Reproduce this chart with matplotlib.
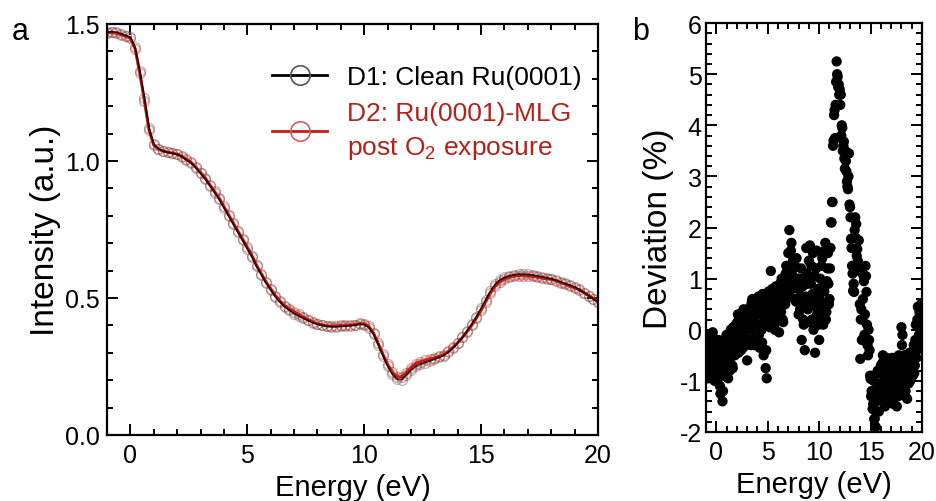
import numpy as np
import matplotlib
matplotlib.use("Agg")
import matplotlib.pyplot as plt
from matplotlib.ticker import MultipleLocator
from matplotlib.lines import Line2D

plt.rcParams['font.family'] = ['Liberation Sans', 'DejaVu Sans']
plt.rcParams['axes.unicode_minus'] = False

# ---------------- data: panel a (intensity spectra) ----------------
energy_a = np.round(np.arange(-1.0, 20.001, 0.2), 2)
intensity_d1 = [
    1.470, 1.472, 1.470, 1.465, 1.458, 1.452, 1.415, 1.330, 1.230, 1.120,
    1.062, 1.045, 1.037, 1.032, 1.028, 1.024, 1.016, 1.004, 0.992, 0.975,
    0.955, 0.935, 0.910, 0.885, 0.860, 0.830, 0.800, 0.770, 0.740, 0.710,
    0.680, 0.650, 0.615, 0.585, 0.555, 0.530, 0.505, 0.485, 0.468, 0.455,
    0.443, 0.434, 0.426, 0.418, 0.410, 0.404, 0.400, 0.397, 0.395, 0.395,
    0.396, 0.397, 0.399, 0.401, 0.404, 0.403, 0.392, 0.368, 0.330, 0.290,
    0.252, 0.222, 0.203, 0.202, 0.218, 0.236, 0.250, 0.258, 0.264, 0.270,
    0.276, 0.283, 0.290, 0.302, 0.318, 0.336, 0.356, 0.380, 0.405, 0.432,
    0.462, 0.494, 0.525, 0.550, 0.566, 0.575, 0.581, 0.585, 0.587, 0.587,
    0.586, 0.584, 0.581, 0.578, 0.574, 0.570, 0.565, 0.559, 0.553, 0.547,
    0.540, 0.531, 0.520, 0.508, 0.496, 0.485,
]
intensity_d2 = [
    1.468, 1.469, 1.466, 1.461, 1.455, 1.448, 1.410, 1.322, 1.220, 1.112,
    1.058, 1.043, 1.036, 1.032, 1.029, 1.025, 1.017, 1.006, 0.995, 0.978,
    0.958, 0.938, 0.913, 0.889, 0.864, 0.834, 0.804, 0.774, 0.744, 0.715,
    0.685, 0.655, 0.619, 0.589, 0.559, 0.534, 0.509, 0.489, 0.472, 0.461,
    0.450, 0.440, 0.430, 0.421, 0.413, 0.406, 0.402, 0.398, 0.398, 0.398,
    0.400, 0.401, 0.401, 0.403, 0.407, 0.406, 0.396, 0.372, 0.334, 0.295,
    0.258, 0.230, 0.212, 0.212, 0.228, 0.246, 0.260, 0.267, 0.272, 0.277,
    0.281, 0.287, 0.293, 0.305, 0.320, 0.337, 0.356, 0.377, 0.400, 0.427,
    0.455, 0.487, 0.518, 0.542, 0.559, 0.569, 0.575, 0.580, 0.582, 0.582,
    0.580, 0.579, 0.576, 0.573, 0.570, 0.568, 0.563, 0.556, 0.550, 0.543,
    0.537, 0.530, 0.520, 0.509, 0.498, 0.487,
]

# ---------------- data: panel b (deviation) ----------------
energy_b = np.round(np.arange(-1.0, 20.001, 0.1), 2)
deviation = [
    -0.30, -0.80, -0.50, -0.10, -0.70, -0.40, -0.90, -0.20, -0.60, -0.35,
    -0.50, -1.00, -0.20, -0.70, -1.25, -0.40, -1.40, -0.60, -0.90, -0.30,
    -0.10, -0.60, -0.30, -0.80, 0.00, -0.45, -0.75, -0.20, -0.50, 0.10,
    -0.30, 0.30, -0.10, 0.20, -0.40, 0.00, -0.35, 0.35, -0.15, 0.10,
    -0.60, 0.25, -0.20, 0.45, 0.00, 0.60, -0.30, 0.20, 0.50, 0.30,
    0.10, 0.65, -0.35, 0.40, 0.00, 0.70, -0.50, 0.25, -0.75, -0.95,
    0.30, 0.75, 0.05, 1.15, 0.50, 0.20, 0.65, 0.00, 0.85, 0.40,
    0.60, -0.05, 0.90, 0.35, 0.70, 0.15, 1.00, 0.50, 1.25, 0.80,
    1.50, 1.95, 1.10, 1.70, 0.90, 1.30, 0.60, 1.00, 1.40, 0.80,
    0.30, 1.00, 0.50, -0.20, 0.85, 0.10, -0.40, 0.65, 1.10, 0.40,
    1.35, 1.65, 0.90, 0.20, 1.50, 0.60, -0.45, 1.20, 0.30, 0.80,
    -0.20, 1.00, 0.50, 1.40, 0.10, 0.75, 1.70, 0.35, 1.20, 0.90,
    0.60, 1.60, 2.10, 2.50, 3.70, 4.30, 4.40, 5.25, 4.95, 4.80,
    4.70, 4.60, 4.00, 3.50, 3.68, 3.15, 3.30, 2.90, 2.75, 3.45,
    2.40, 1.78, 1.25, 0.76, 0.74, 2.20, 2.07, 1.58, 1.30, 1.15,
    -0.57, 0.40, 0.20, 1.06, -0.10, 1.25, 0.74, -0.30, 0.00, -0.40,
    -0.96, -1.20, -1.55, -1.00, -1.74, -1.90, -1.40, -0.80, -1.60, -1.10,
    -0.70, -1.30, -0.50, -1.00, -1.50, -0.80, -1.15, -0.60, -1.35, -0.90,
    -1.10, -0.55, -1.45, -0.85, -1.20, -0.70, -1.00, -1.30, -0.60, -0.90,
    0.05, -0.10, -1.10, -0.50, -1.20, -0.90, -0.60, -1.05, -0.45, -0.80,
    -0.50, -0.90, -0.30, -0.70, 0.10, -0.40, 0.45, -0.10, 0.30, 0.50,
    0.20,
]
# interleaved points (half-step energies)
energy_b_half = np.round(np.arange(-0.95, 19.96, 0.1), 2)
deviation_half = [
    -0.55, -0.15, -0.95, -0.45, -0.25, -0.75, -0.05, -0.50, -1.00, -0.65,
    -0.25, -0.85, -0.55, -1.10, -0.35, -0.80, -1.20, -0.45, -0.70, -0.15,
    -0.40, -0.95, -0.15, -0.55, -0.30, -0.70, 0.05, -0.35, -0.10, -0.25,
    0.15, -0.45, 0.30, -0.05, 0.20, -0.25, 0.40, 0.05, -0.30, 0.25,
    0.00, 0.40, 0.10, -0.30, 0.55, 0.15, 0.35, -0.15, 0.60, 0.10,
    0.45, -0.10, 0.30, 0.55, -0.25, 0.40, 0.15, 0.60, -0.40, 0.35,
    0.55, 0.10, 0.60, 0.30, 0.80, 0.45, 0.10, 0.70, 0.30, 0.55,
    0.25, 0.75, 0.45, 1.00, 0.20, 0.85, 0.55, 1.10, 0.65, 1.00,
    1.20, 0.75, 1.55, 1.15, 1.35, 0.85, 1.25, 0.55, 1.00, 0.60,
    0.80, 0.40, 1.20, 0.65, 0.20, 1.00, 0.55, 1.60, 0.90, 0.15,
    0.95, 0.50, 1.25, 0.70, 0.00, 1.05, 0.45, 1.55, 0.65, 0.10,
    0.60, 0.25, 1.25, 0.85, 0.40, 1.55, 0.20, 0.95, 1.50, 0.50,
    1.20, 2.10, 2.50, 3.60, 4.20, 3.75, 4.85, 5.00, 4.75, 4.60,
    4.40, 3.80, 3.95, 3.60, 3.35, 3.50, 3.10, 2.80, 3.00, 2.45,
    2.20, 1.60, 1.10, 0.90, 1.95, 1.80, 1.45, 1.35, 1.75, 0.50,
    0.20, -0.20, 0.60, 0.95, 0.30, 1.05, 0.10, -0.50, -0.20, -0.90,
    -1.30, -0.90, -1.45, -1.75, -1.30, -1.60, -1.05, -1.25, -0.85, -1.35,
    -1.05, -0.65, -1.20, -0.75, -1.30, -0.55, -0.95, -1.25, -0.75, -1.10,
    -0.80, -1.30, -0.65, -1.05, -0.90, -1.50, -0.75, -0.50, -1.15, -0.70,
    -0.30, -0.85, -0.55, -1.00, -0.70, -1.35, -0.80, -0.55, -1.00, -0.60,
    -0.70, -0.45, -0.85, -0.20, -0.55, 0.20, -0.25, 0.35, 0.05, 0.40,
]

label_d1 = "D1: Clean Ru(0001)"
label_d2 = "D2: Ru(0001)-MLG\npost O$\\mathregular{_2}$ exposure"

RED = "#cc1a12"
TEXT_RED = "#b3231c"

fig = plt.figure(figsize=(9.37, 5.02), dpi=100)
ax1 = fig.add_axes([0.1142, 0.1315, 0.5240, 0.8187])
ax2 = fig.add_axes([0.7535, 0.1375, 0.2305, 0.8145])

# panel a
ax1.plot(energy_a, intensity_d2, linestyle='none', marker='o', markersize=7,
         markerfacecolor='none', markeredgecolor=RED, markeredgewidth=1.0, alpha=0.4)
ax1.plot(energy_a, intensity_d1, linestyle='none', marker='o', markersize=7,
         markerfacecolor='none', markeredgecolor='#555555', markeredgewidth=1.0, alpha=0.4)
ax1.plot(energy_a, intensity_d2, color=RED, linewidth=2.2)
ax1.plot(energy_a, intensity_d1, color='black', linewidth=1.3, alpha=0.8)

ax1.set_xlim(-1, 20)
ax1.set_ylim(0, 1.5)
ax1.xaxis.set_major_locator(MultipleLocator(5))
ax1.xaxis.set_minor_locator(MultipleLocator(1))
ax1.yaxis.set_major_locator(MultipleLocator(0.5))
ax1.yaxis.set_minor_locator(MultipleLocator(0.1))
ax1.set_yticks([0, 0.5, 1.0, 1.5])
ax1.set_yticklabels(['0.0', '0.5', '1.0', '1.5'])
ax1.set_xlabel("Energy (eV)", fontsize=21, labelpad=4)
ax1.set_ylabel("Intensity (a.u.)", fontsize=24, labelpad=3)

handles = [
    Line2D([], [], color='black', linewidth=2, marker='o', markersize=14,
           markerfacecolor='none', markeredgecolor='#555555', markeredgewidth=1.2),
    Line2D([], [], color=RED, linewidth=2, marker='o', markersize=14,
           markerfacecolor='none', markeredgecolor='#d06060', markeredgewidth=1.2),
]
leg = ax1.legend(handles, [label_d1, label_d2], loc='upper right',
                 bbox_to_anchor=(0.967, 0.90), frameon=False, fontsize=19,
                 handlelength=2.1, handletextpad=0.75, borderpad=0.0,
                 labelspacing=0.45, borderaxespad=0.0)
for t in leg.get_texts():
    t.set_linespacing(1.45)
leg.get_texts()[1].set_color(TEXT_RED)

# panel b
ax2.scatter(energy_b, deviation, s=55, color='black', edgecolors='none', zorder=3)
ax2.scatter(energy_b_half, deviation_half, s=55, color='black', edgecolors='none', zorder=3)
ax2.set_xlim(-1, 20)
ax2.set_ylim(-2, 6)
ax2.xaxis.set_major_locator(MultipleLocator(5))
ax2.xaxis.set_minor_locator(MultipleLocator(1))
ax2.yaxis.set_major_locator(MultipleLocator(1))
ax2.yaxis.set_minor_locator(MultipleLocator(0.2))
ax2.set_xlabel("Energy (eV)", fontsize=21, labelpad=4)
ax2.set_ylabel("Deviation (%)", fontsize=24, labelpad=4)

for ax, ypad in ((ax1, 5), (ax2, 3)):
    for sp in ax.spines.values():
        sp.set_linewidth(1.6)
    ax.tick_params(which='both', direction='in', top=True, right=True,
                   labelsize=18, width=1.4)
    ax.tick_params(which='major', length=8)
    ax.tick_params(which='minor', length=4.5)
    ax.tick_params(axis='x', pad=6)
    ax.tick_params(axis='y', pad=ypad)

fig.text(0.0128, 0.920, "a", fontsize=22, ha='left', va='baseline')
fig.text(0.6745, 0.920, "b", fontsize=22, ha='left', va='baseline')

fig.savefig("out.png", dpi=100)
